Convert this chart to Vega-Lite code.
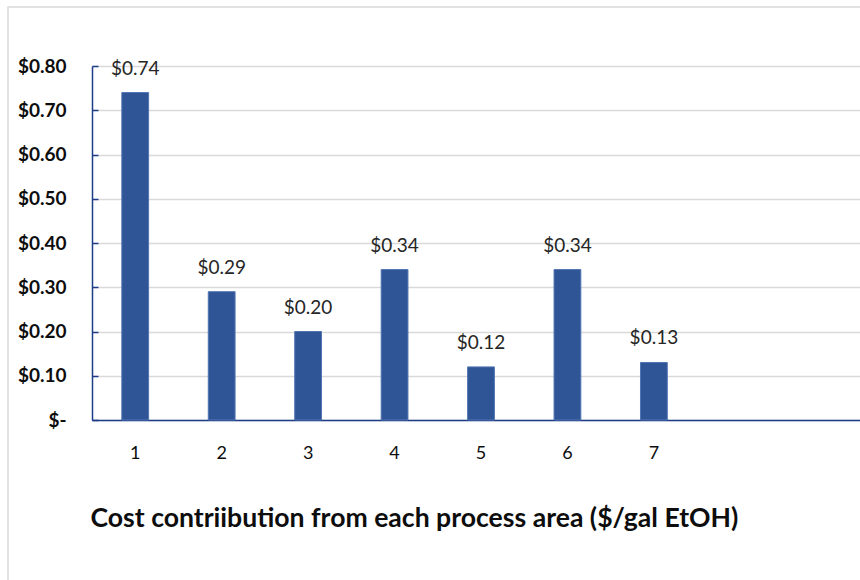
{
  "$schema": "https://vega.github.io/schema/vega-lite/v6.json",
  "width": 870,
  "height": 590,
  "autosize": "none",
  "padding": {"left": 8, "top": 7, "right": 0, "bottom": 0},
  "background": "white",
  "config": {
    "view": {"stroke": "#d9d9d9", "strokeWidth": 1.5},
    "font": "Lato"
  },
  "data": {
    "values": [
      {"area": "1", "cost": 0.74},
      {"area": "2", "cost": 0.29},
      {"area": "3", "cost": 0.20},
      {"area": "4", "cost": 0.34},
      {"area": "5", "cost": 0.12},
      {"area": "6", "cost": 0.34},
      {"area": "7", "cost": 0.13}
    ]
  },
  "encoding": {
    "x": {
      "field": "area",
      "type": "ordinal",
      "scale": {"domain": ["1", "2", "3", "4", "5", "6", "7", "8", "9"], "range": [84, 862], "paddingInner": 0, "paddingOuter": 0},
      "axis": {
        "offset": -177,
        "title": "Cost contriibution from each process area ($/gal EtOH)",
        "titleFont": "Lato",
        "titleFontSize": 26.6,
        "titleFontWeight": "bold",
        "titleColor": "#0d0d0d",
        "titleAnchor": "start",
        "titleAlign": "left",
        "titleBaseline": "alphabetic",
        "titleX": 82,
        "titleY": 106,
        "labelAngle": 0,
        "labelFontSize": 18,
        "labelColor": "#0d0d0d",
        "labelPadding": 24,
        "labelExpr": "toNumber(datum.value) > 7 ? '' : datum.label",
        "ticks": false,
        "domainColor": "#1f3c88",
        "domainWidth": 1.5
      }
    },
    "y": {
      "field": "cost",
      "type": "quantitative",
      "scale": {"domain": [0, 0.8], "nice": false, "range": [413, 59]},
      "axis": {
        "offset": -84,
        "title": null,
        "values": [0, 0.1, 0.2, 0.3, 0.4, 0.5, 0.6, 0.7, 0.8],
        "labelExpr": "datum.value == 0 ? '$-' : '$' + format(datum.value, '.2f')",
        "labelFontSize": 19,
        "labelFontWeight": "bold",
        "labelColor": "#0d0d0d",
        "labelPadding": 32,
        "tickSize": -6,
        "tickColor": "#1f3c88",
        "tickWidth": 1.5,
        "domainColor": "#1f3c88",
        "domainWidth": 1.5,
        "gridColor": "#d9d9d9",
        "gridWidth": 1.5
      }
    }
  },
  "layer": [
    {
      "mark": {"type": "bar", "color": "#2f5597", "stroke": "#5275b3", "strokeWidth": 1, "width": {"band": 0.31}}
    },
    {
      "mark": {"type": "text", "baseline": "bottom", "dy": -14, "fontSize": 19, "color": "#262626"},
      "encoding": {
        "text": {"field": "cost", "type": "quantitative", "format": "$.2f"}
      }
    }
  ]
}
